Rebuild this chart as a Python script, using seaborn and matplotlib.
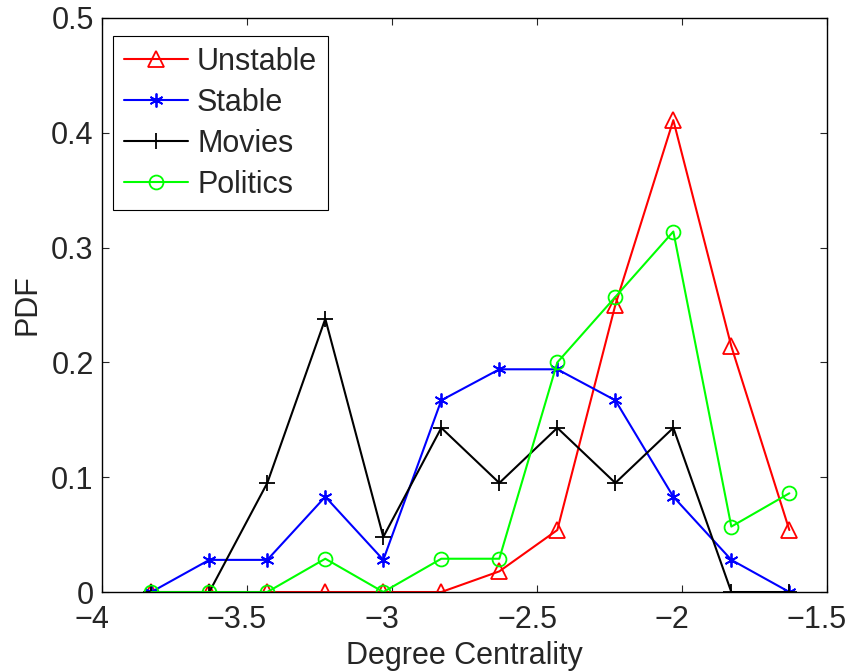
import matplotlib
matplotlib.use("Agg")
import matplotlib.pyplot as plt
import matplotlib.transforms as mtransforms
import seaborn as sns
import pandas as pd
from matplotlib.ticker import FuncFormatter

# bin centres (log10 degree centrality)
x_vals = [-3.83, -3.63, -3.43, -3.23, -3.03, -2.83, -2.63, -2.43, -2.23, -2.03, -1.83, -1.63]

unstable = [0, 0, 0, 0, 0, 0, 0.018, 0.054, 0.25, 0.411, 0.214, 0.054]
stable = [0, 0.028, 0.028, 0.083, 0.028, 0.167, 0.194, 0.194, 0.167, 0.083, 0.028, 0]
movies = [0, 0, 0.095, 0.238, 0.048, 0.143, 0.095, 0.143, 0.095, 0.143, 0, 0]
politics = [0, 0, 0, 0.029, 0, 0.029, 0.029, 0.2, 0.257, 0.314, 0.057, 0.086]

x_ticks = [-4, -3.5, -3, -2.5, -2, -1.5]
y_ticks = [0, 0.1, 0.2, 0.3, 0.4, 0.5]

sns.set_style("ticks")
plt.rcParams['font.family'] = ['Liberation Sans', 'DejaVu Sans']
plt.rcParams['xtick.direction'] = 'in'
plt.rcParams['ytick.direction'] = 'in'

fig = plt.figure(figsize=(8.52, 6.71), dpi=100)
ax = fig.add_axes([0.1197, 0.1177, 0.851, 0.8555])

series = [
    ('Unstable', unstable, '#ff0000', '^', 12),
    ('Stable', stable, '#0000ff', (6, 2, 0), 10),
    ('Movies', movies, '#000000', '+', 11),
    ('Politics', politics, '#00ff00', 'o', 10),
]

for name, vals, col, mk, ms in series:
    df = pd.DataFrame({'x': x_vals, 'y': vals})
    sns.lineplot(data=df, x='x', y='y', ax=ax, color=col, linewidth=1.5,
                 marker=mk, markersize=ms, markerfacecolor='none',
                 markeredgecolor=col, markeredgewidth=1.3, label=name)

ax.set_xlim(-4, -1.5)
ax.set_ylim(0, 0.5)
ax.set_xticks(x_ticks)
ax.set_yticks(y_ticks)
fmt = FuncFormatter(lambda v, p: '{:g}'.format(v).replace('-', '\u2212'))
ax.xaxis.set_major_formatter(fmt)
ax.yaxis.set_major_formatter(fmt)
ax.tick_params(labelsize=22, length=5, width=0.8, top=True, right=True)
ax.tick_params(axis='x', pad=9)
ax.tick_params(axis='y', pad=6)
for s in ax.spines.values():
    s.set_linewidth(1.0)
    s.set_color('black')

# matlab-style labels sit a little left of their ticks
shift = mtransforms.ScaledTranslation(-0.1, 0, fig.dpi_scale_trans)
for lbl in ax.get_xticklabels():
    lbl.set_transform(lbl.get_transform() + shift)

ax.set_xlabel('Degree Centrality', fontsize=22, labelpad=5)
ax.set_ylabel('PDF', fontsize=22, labelpad=6)

leg = ax.legend(loc='upper left', bbox_to_anchor=(0.0152, 0.9686), borderaxespad=0,
                fontsize=22, fancybox=False, edgecolor='black', framealpha=1,
                handlelength=2.1, handletextpad=0.3, labelspacing=0.36,
                borderpad=0.35)
leg.get_frame().set_linewidth(0.8)

fig.savefig('out.png', dpi=100)
